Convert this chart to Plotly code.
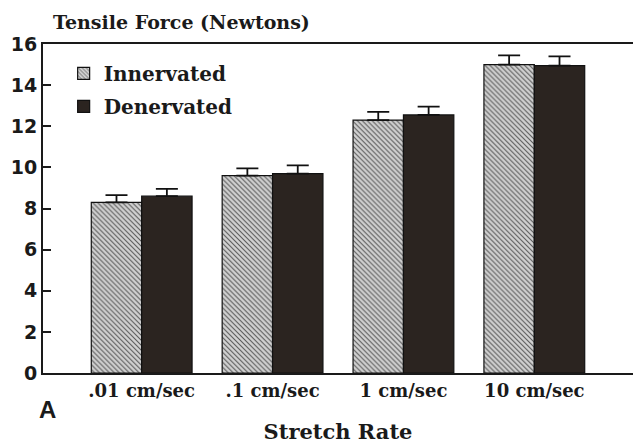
import plotly.graph_objects as go

categories = [".01 cm/sec", ".1 cm/sec", "1 cm/sec", "10 cm/sec"]
innervated = [8.3, 9.6, 12.3, 15.0]
innervated_err = [0.35, 0.35, 0.4, 0.45]
denervated = [8.6, 9.7, 12.55, 14.95]
denervated_err = [0.35, 0.4, 0.4, 0.45]
y_ticks = [0, 2, 4, 6, 8, 10, 12, 14, 16]

serif = "DejaVu Serif"
sans = "DejaVu Sans"

fig = go.Figure()
fig.add_trace(go.Bar(
    name="Innervated", x=categories, y=innervated, legendgroup="a",
    marker=dict(color="#b8b8b8", line=dict(color="#111", width=1.2),
                pattern=dict(shape="\\", fgcolor="#555555", bgcolor="#d2d2d2",
                             size=3.5, solidity=0.3, fillmode="replace")),
    error_y=dict(type="data", symmetric=False, array=innervated_err,
                 arrayminus=[0] * 4, color="#111", thickness=1.8, width=11),
))
fig.add_trace(go.Bar(
    name="Denervated", x=categories, y=denervated, legendgroup="b",
    marker=dict(color="#2b2420", line=dict(color="#111", width=1.2)),
    error_y=dict(type="data", symmetric=False, array=denervated_err,
                 arrayminus=[0] * 4, color="#111", thickness=1.8, width=11),
))

fig.update_layout(
    width=633, height=444,
    margin=dict(l=43, r=0, t=44, b=71),
    paper_bgcolor="white", plot_bgcolor="white",
    barmode="group", bargap=0.23, bargroupgap=0,
    showlegend=True,
    legend=dict(x=0.035, y=0.97, xanchor="left", yanchor="top",
                font=dict(family=serif, size=20, color="#1a1a1a", weight="bold"),
                bgcolor="rgba(0,0,0,0)", tracegroupgap=4, itemwidth=30),
    font=dict(family=serif, color="#1a1a1a"),
    xaxis=dict(range=[-0.754, 3.754], showline=True, linecolor="#1a1a1a",
               linewidth=2, mirror=True, ticks="", showgrid=False,
               tickfont=dict(family=serif, size=18, weight="bold"),
               title=dict(text="Stretch Rate", standoff=26,
                          font=dict(family=serif, size=21, weight="bold"))),
    yaxis=dict(range=[0, 16], tickvals=y_ticks, showline=True,
               linecolor="#1a1a1a", linewidth=2, ticks="inside", ticklen=8,
               tickwidth=1.5, tickcolor="#1a1a1a", showgrid=False, zeroline=False,
               tickfont=dict(family=sans, size=19, weight="bold")),
    annotations=[
        dict(text="Tensile Force (Newtons)", xref="paper", yref="paper",
             x=0.014, y=1.067, xanchor="left", yanchor="middle", showarrow=False,
             font=dict(family=serif, size=19, weight="bold", color="#1a1a1a")),
        dict(text="A", xref="paper", yref="paper", x=-0.01, y=-0.11,
             xanchor="left", yanchor="middle", showarrow=False,
             font=dict(family="Liberation Sans", size=24, weight="bold", color="#1a1a1a")),
    ],
)
fig.write_html("out.html")
